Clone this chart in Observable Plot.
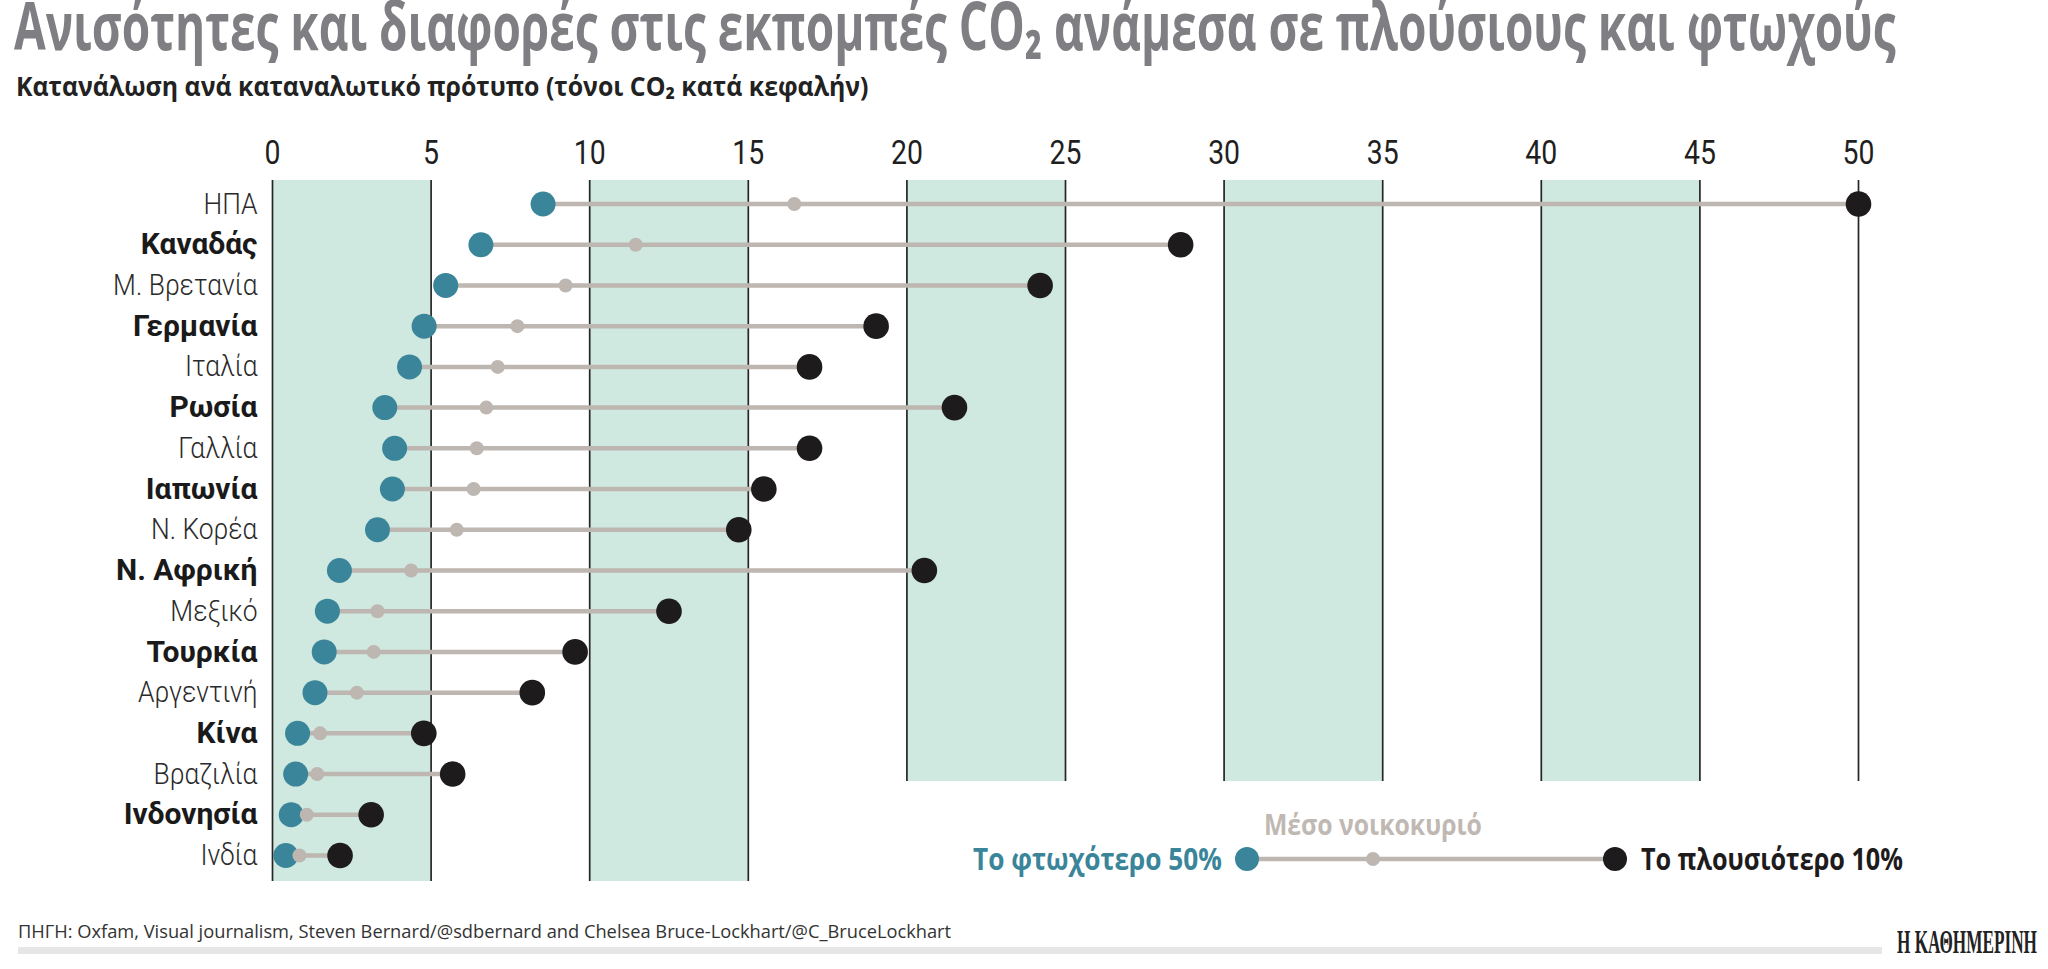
<!DOCTYPE html>
<html><head><meta charset="utf-8">
<script src="https://cdn.jsdelivr.net/npm/d3@7"></script>
<script src="https://cdn.jsdelivr.net/npm/@observablehq/plot@0.6"></script>
<style>
html,body{margin:0;padding:0;background:#fff;}
#wrap{position:relative;width:2048px;height:969px;overflow:hidden;background:#fff;}
#chart{position:absolute;left:0;top:120px;}
#overlay{position:absolute;left:0;top:0;}
</style></head>
<body><div id="wrap"><div id="chart"></div><svg id="overlay" width="2048" height="969"></svg></div>
<script>
// ---- data ----
const countries = ["ΗΠΑ","Καναδάς","Μ. Βρετανία","Γερμανία","Ιταλία","Ρωσία","Γαλλία","Ιαπωνία","Ν. Κορέα","Ν. Αφρική","Μεξικό","Τουρκία","Αργεντινή","Κίνα","Βραζιλία","Ινδονησία","Ινδία"];
const poorest50 = [8.53, 6.57, 5.46, 4.78, 4.32, 3.54, 3.85, 3.78, 3.31, 2.11, 1.73, 1.63, 1.34, 0.79, 0.73, 0.59, 0.42];
const average   = [16.45, 11.45, 9.24, 7.72, 7.10, 6.74, 6.44, 6.34, 5.81, 4.37, 3.31, 3.19, 2.66, 1.50, 1.41, 1.08, 0.85];
const richest10 = [50, 28.63, 24.2, 19.03, 16.93, 21.5, 16.93, 15.49, 14.7, 20.55, 12.5, 9.54, 8.19, 4.77, 5.68, 3.11, 2.13];
const tickValues = [0, 5, 10, 15, 20, 25, 30, 35, 40, 45, 50];
const bandStarts = [0, 10, 20, 30, 40];
const bandWidth = 5;
const title = "Ανισότητες και διαφορές στις εκπομπές CO₂ ανάμεσα σε πλούσιους και φτωχούς";
const subtitle = "Κατανάλωση ανά καταναλωτικό πρότυπο (τόνοι CO₂ κατά κεφαλήν)";
const legendPoor = "Το φτωχότερο 50%";
const legendMean = "Μέσο νοικοκυριό";
const legendRich = "Το πλουσιότερο 10%";
const source = "ΠΗΓΗ: Oxfam, Visual journalism, Steven Bernard/@sdbernard and Chelsea Bruce-Lockhart/@C_BruceLockhart";
const brand = "Η ΚΑΘΗΜΕΡΙΝΗ";

// ---- derived table ----
const rows = countries.map((c, i) => ({country: c, poor: poorest50[i], mean: average[i], rich: richest10[i], i}));
const regularRows = rows.filter(d => d.i % 2 === 0);
const boldRows = rows.filter(d => d.i % 2 === 1);
const bands = bandStarts.map(s => ({x1: s, x2: s + bandWidth}));
const tallBands = bands.filter(b => b.x1 < 20);
const shortBands = bands.filter(b => b.x1 >= 20);
const tallTicks = tickValues.filter(t => t < 20);
const shortTicks = tickValues.filter(t => t >= 20);
const firstRow = countries[0];
const lastRow = countries[countries.length - 1];
const lastShortRow = "Βραζιλία";

const TEAL = "#3a8599", BLACK = "#1e1b1c", GREY = "#bdb6b1", BAND = "#cfe8e0", RULE = "#262626";

const chart = Plot.plot({
  width: 2048,
  height: 780,
  marginTop: 60,
  marginBottom: 19,
  marginLeft: 272,
  marginRight: 190,
  style: {fontFamily: "Roboto, 'Open Sans', sans-serif", background: "transparent"},
  x: {domain: [0, 50], axis: null},
  y: {type: "point", domain: countries, range: [83.5, 735], padding: 0, round: false, axis: null},
  marks: [
    Plot.rect(tallBands, {x1: "x1", x2: "x2", y1: () => firstRow, y2: () => lastRow, insetTop: -23.5, insetBottom: -26, fill: BAND}),
    Plot.rect(shortBands, {x1: "x1", x2: "x2", y1: () => firstRow, y2: () => lastShortRow, insetTop: -23.5, insetBottom: -7.5, fill: BAND}),
    Plot.ruleX(tallTicks, {x: d => d, y1: () => firstRow, y2: () => lastRow, insetTop: -23.5, insetBottom: -26, stroke: RULE, strokeWidth: 1.7}),
    Plot.ruleX(shortTicks, {x: d => d, y1: () => firstRow, y2: () => lastShortRow, insetTop: -23.5, insetBottom: -7.5, stroke: RULE, strokeWidth: 1.7}),
    Plot.ruleY(rows, {y: "country", x1: "poor", x2: "rich", stroke: GREY, strokeWidth: 4.5}),
    Plot.dot(rows, {x: "poor", y: "country", r: 12.5, fill: TEAL}),
    Plot.dot(rows, {x: "mean", y: "country", r: 7, fill: GREY}),
    Plot.dot(rows, {x: "rich", y: "country", r: 12.8, fill: BLACK}),
    Plot.text(tickValues, {x: d => d, text: d => String(d), frameAnchor: "top", dy: -27, lineAnchor: "middle", fontSize: 33, fontWeight: 400, fill: "#1f1f1f"}),
    Plot.text(regularRows, {y: "country", text: "country", frameAnchor: "left", dx: -15, textAnchor: "end", fontSize: 30, fontWeight: 300, fill: "#2a2a2a"}),
    Plot.text(boldRows, {y: "country", text: "country", frameAnchor: "left", dx: -15, textAnchor: "end", fontSize: 30, fontWeight: 700, fill: "#1a1a1a"})
  ]
});
document.getElementById("chart").appendChild(chart);

function condense(el, factor) {
  const len = el.getComputedTextLength();
  el.setAttribute("textLength", (len * factor).toFixed(1));
  el.setAttribute("lengthAdjust", "spacingAndGlyphs");
}
const textGroups = chart.querySelectorAll('g[aria-label="text"]');
textGroups[0].querySelectorAll("text").forEach(t => condense(t, 0.86));
textGroups[1].querySelectorAll("text").forEach(t => condense(t, 0.88));
textGroups[2].querySelectorAll("text").forEach(t => condense(t, 1.0));

// ---- overlay: titles, legend, footer ----
const NS = "http://www.w3.org/2000/svg";
const ov = document.getElementById("overlay");
function add(tag, attrs, txt) {
  const e = document.createElementNS(NS, tag);
  for (const k in attrs) e.setAttribute(k, attrs[k]);
  if (txt != null) e.textContent = txt;
  ov.appendChild(e);
  return e;
}
function fitText(txt, x, y, attrs, width) {
  const e = add("text", Object.assign({x: 0, y: 0}, attrs), txt);
  const w = e.getComputedTextLength();
  const s = width / w;
  e.setAttribute("transform", `translate(${x},${y}) scale(${s.toFixed(4)},1)`);
  return e;
}
const SANS = "'Open Sans', Roboto, sans-serif";
fitText(title, 14, 50, {"font-family": SANS, "font-weight": 700, "font-size": 66, fill: "#7f7f83"}, 1882);
fitText(subtitle, 16, 96, {"font-family": SANS, "font-weight": 700, "font-size": 27, fill: "#222"}, 853);

// legend
add("line", {x1: 1247, x2: 1615, y1: 859, y2: 859, stroke: GREY, "stroke-width": 4.5});
add("circle", {cx: 1247, cy: 859, r: 12, fill: TEAL});
add("circle", {cx: 1373, cy: 859, r: 7, fill: GREY});
add("circle", {cx: 1615, cy: 859, r: 12, fill: BLACK});
fitText(legendMean, 1264, 835, {"font-family": SANS, "font-weight": 700, "font-size": 28, fill: "#bfb8b3"}, 218);
fitText(legendPoor, 973, 870, {"font-family": SANS, "font-weight": 700, "font-size": 30, fill: TEAL}, 249);
fitText(legendRich, 1641, 870, {"font-family": SANS, "font-weight": 700, "font-size": 30, fill: BLACK}, 262);

// footer
fitText(source, 18, 938, {"font-family": SANS, "font-weight": 400, "font-size": 19, fill: "#333"}, 934);
add("rect", {x: 18, y: 947, width: 1864, height: 7, fill: "#e6e6e6"});
fitText(brand, 1897, 953, {"font-family": "'Liberation Serif', 'DejaVu Serif', serif", "font-weight": 700, "font-size": 34, fill: "#222"}, 140);
</script>
</body></html>
